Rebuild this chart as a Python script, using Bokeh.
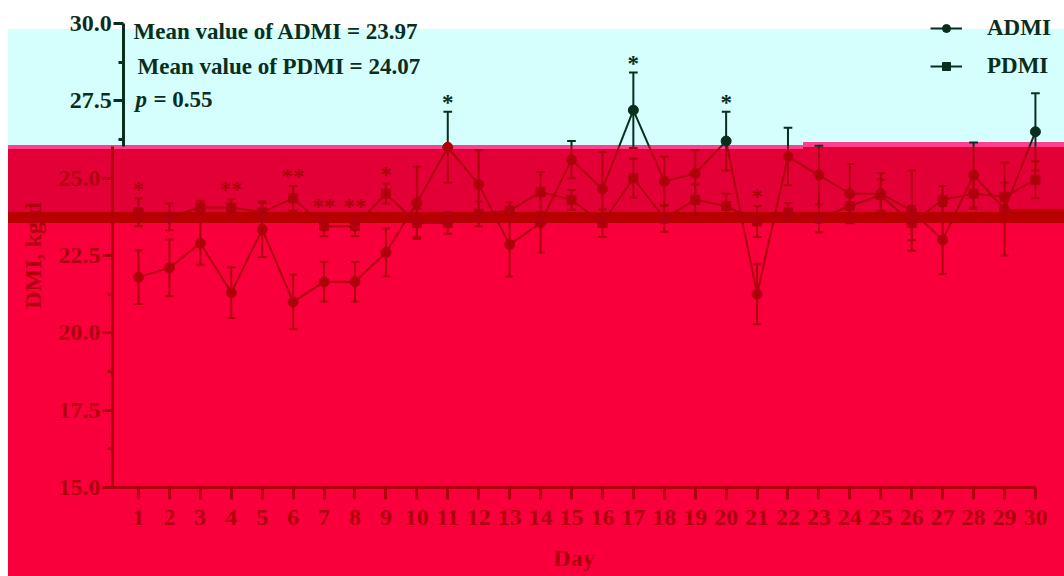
from bokeh.plotting import figure
from bokeh.models import (Range1d, FixedTicker, Legend, LegendItem, ColumnDataSource,
                          NumeralTickFormatter, LinearAxis)
from bokeh.core.properties import value
from bokeh.embed import file_html
from bokeh.resources import INLINE

# ---------------- data ----------------
days = list(range(1, 31))
admi = [21.8, 22.1, 22.9, 21.3, 23.35, 21.0, 21.65, 21.65, 22.6, 24.2,
        26.0, 24.8, 22.85, 23.55, 25.6, 24.65, 27.2, 24.9, 25.15, 26.2,
        21.25, 25.7, 25.1, 24.5, 24.5, 23.95, 23.0, 25.1, 24.0, 26.5]
admi_err = [0.87, 0.92, 0.7, 0.82, 0.9, 0.88, 0.64, 0.64, 0.77, 1.17,
            1.15, 1.1, 1.03, 0.95, 0.6, 1.2, 1.22, 0.8, 0.75, 0.95,
            0.97, 0.93, 0.95, 0.96, 0.66, 1.3, 1.1, 1.05, 1.5, 1.25]
pdmi = [23.9, 23.75, 24.05, 24.05, 23.9, 24.35, 23.45, 23.45, 24.5, 23.55,
        23.55, 23.85, 23.95, 24.55, 24.3, 23.55, 25.0, 23.7, 24.3, 24.1,
        23.6, 23.9, 23.7, 24.1, 24.45, 23.55, 24.3, 24.5, 24.4, 24.95]
pdmi_err = [0.45, 0.43, 0.22, 0.27, 0.3, 0.4, 0.33, 0.33, 0.33, 0.46,
            0.35, 0.4, 0.27, 0.65, 0.32, 0.44, 0.63, 0.43, 0.5, 0.4,
            0.5, 0.3, 0.45, 0.35, 0.5, 0.55, 0.45, 0.5, 0.45, 0.6]
stars = ["*", "", "", "**", "", "**", "**", "**", "*", "",
         "*", "", "", "", "", "", "*", "", "", "*",
         "*", "", "", "", "", "", "", "", "", ""]
y_major = [15.0, 17.5, 20.0, 22.5, 25.0, 27.5, 30.0]
y_minor = [16.25, 18.75, 21.25, 23.75, 26.25, 28.75]
mean_labels = ["Mean value of ADMI = 23.97", "Mean value of PDMI = 24.07"]
p_label = ["p", "= 0.55"]
series_names = ["ADMI", "PDMI"]
x_title = "Day"
y_title = "DMI, kg/d"

# ---------------- style ----------------
DARK = "#0A2E1E"      # ink over the light (upper) band
INK = "#B0000C"       # ink over the red (lower) band
THRESH = 26.02        # value where the band changes
FONT = "Liberation Serif"
X0 = 0.16             # where the y axis sits
Y0 = 15.0             # where the x axis sits

W, H = 1064, 576
p = figure(width=W, height=H, output_backend="svg", toolbar_location=None,
           x_range=Range1d(-3.461, 30.94), y_range=Range1d(12.122, 30.745),
           min_border_left=0, min_border_right=0, min_border_top=0,
           min_border_bottom=0)
p.border_fill_color = None
p.background_fill_color = None
p.outline_line_color = None
p.grid.visible = False

bg = ("linear-gradient(#FFFFFF, #FFFFFF) 0px 0px / 8px 100% no-repeat, "
      "linear-gradient(to bottom, transparent 0px, transparent 209px, #B80000 209px, #B80000 222px, transparent 222px) 1003px 0px / 61px 100% no-repeat, "
      "linear-gradient(to bottom, transparent 0px, transparent 142px, #FF3E8E 142px, #FF3E8E 147px, #E30037 147px, #E30037 149px, transparent 149px) 803px 0px / 261px 100% no-repeat, "
      "linear-gradient(to bottom, #FFFFFF 0px, #FFFFFF 29px, #D4FFFD 29px, #D4FFFD 145px, #FF3E8E 145px, #FF3E8E 149px, "
      "#E30037 149px, #E30037 212px, #B80000 212px, #B80000 223px, #F9003C 223px, #F9003C 100%)")
p.styles = {"background": bg}


def col(y):
    return DARK if y > THRESH else INK


def split(x0, y0, x1, y1):
    a0, a1 = y0 > THRESH, y1 > THRESH
    if a0 == a1:
        return [(x0, y0, x1, y1, col(y0))]
    t = (THRESH - y0) / (y1 - y0)
    xm = x0 + t * (x1 - x0)
    return [(x0, y0, xm, THRESH, col(y0)), (xm, THRESH, x1, y1, col(y1))]


def draw_series(vals, errs, marker):
    segs = []
    for i in range(len(days) - 1):
        segs += split(days[i], vals[i], days[i + 1], vals[i + 1])
    for d, v, e in zip(days, vals, errs):
        segs += split(d, v - e, d, v + e)
        for yy in (v - e, v + e):
            segs.append((d - 0.14, yy, d + 0.14, yy, col(yy)))
    src = ColumnDataSource(dict(x0=[s[0] for s in segs], y0=[s[1] for s in segs],
                                x1=[s[2] for s in segs], y1=[s[3] for s in segs],
                                c=[s[4] for s in segs]))
    p.segment("x0", "y0", "x1", "y1", source=src, line_color="c", line_width=2)
    msrc = ColumnDataSource(dict(x=days, y=vals, c=[col(v) for v in vals]))
    p.scatter("x", "y", source=msrc, marker=marker, size=10 if marker == "circle" else 9,
              fill_color="c", line_color="c")


draw_series(pdmi, pdmi_err, "square")
draw_series(admi, admi_err, "circle")

# significance marks (placed just above the higher error bar)
sx, sy, st, sc = [], [], [], []
for d, a, ae, pv, pe, s in zip(days, admi, admi_err, pdmi, pdmi_err, stars):
    if s:
        top = max(a + ae, pv + pe) + 0.3
        sx.append(d); sy.append(top); st.append(s); sc.append(col(top))
p.text(x="x", y="y", text="t", source=ColumnDataSource(dict(x=sx, y=sy, t=st, c=sc)),
       text_color="c", text_align="center", text_baseline="alphabetic",
       text_font=value(FONT), text_font_style="bold", text_font_size="23px")

# annotation texts
p.text(x=[0.84, 0.97], y=[29.75, 28.61], text=mean_labels, text_color=DARK,
       text_align="left", text_baseline="alphabetic",
       text_font=value(FONT), text_font_style="bold", text_font_size="23px")
p.text(x=[0.9], y=[27.55], text=[p_label[0]], text_color=DARK, text_align="left",
       text_baseline="alphabetic", text_font=value(FONT), text_font_style="bold italic",
       text_font_size="23px")
p.text(x=[0.9], y=[27.55], text=[p_label[1]], x_offset=18, text_color=DARK,
       text_align="left", text_baseline="alphabetic", text_font=value(FONT),
       text_font_style="bold", text_font_size="23px")

# legend: renderers on an off-screen range so only their legend glyphs show
p.extra_y_ranges = {"legend_only": Range1d(-100, -99)}
l1 = p.line(x=days, y=admi, line_color=DARK, line_width=2, y_range_name="legend_only")
m1 = p.scatter(x=days, y=admi, marker="circle", size=10, fill_color=DARK, line_color=DARK,
               y_range_name="legend_only")
l2 = p.line(x=days, y=pdmi, line_color=DARK, line_width=2, y_range_name="legend_only")
m2 = p.scatter(x=days, y=pdmi, marker="square", size=9, fill_color=DARK, line_color=DARK,
               y_range_name="legend_only")
legend = Legend(items=[LegendItem(label=series_names[0], renderers=[l1, m1]),
                       LegendItem(label=series_names[1], renderers=[l2, m2])],
                location=(930, 497), background_fill_color=None, border_line_color=None,
                label_text_font=FONT, label_text_font_style="bold",
                label_text_font_size="23px", label_text_color=DARK,
                glyph_width=32, glyph_height=20, label_standoff=25, spacing=12,
                padding=0, margin=0)
p.add_layout(legend)

# x axis
xa = p.xaxis[0]
xa.ticker = FixedTicker(ticks=days)
xa.bounds = (X0, 30)
xa.fixed_location = Y0
xa.axis_line_color = INK
xa.axis_line_width = 3
xa.major_tick_line_color = INK
xa.major_tick_line_width = 3
xa.major_tick_out = 12
xa.major_tick_in = 0
xa.minor_tick_line_color = None
xa.major_label_text_color = INK
xa.major_label_text_font = FONT
xa.major_label_text_font_style = "bold"
xa.major_label_text_font_size = "24px"
xa.major_label_standoff = 11
xa.axis_label = x_title
xa.axis_label_text_color = INK
xa.axis_label_text_font = FONT
xa.axis_label_text_font_style = "bold"
xa.axis_label_text_font_size = "24px"
xa.axis_label_standoff = 16


def style_y(ax, c):
    ax.axis_line_color = c
    ax.axis_line_width = 3
    ax.major_tick_line_color = c
    ax.major_tick_line_width = 3
    ax.minor_tick_line_color = c
    ax.minor_tick_line_width = 3
    ax.major_tick_out = 10
    ax.major_tick_in = 0
    ax.minor_tick_out = 5
    ax.minor_tick_in = 0
    ax.major_label_text_color = c
    ax.major_label_text_font = FONT
    ax.major_label_text_font_style = "bold"
    ax.major_label_text_font_size = "24px"
    ax.major_label_standoff = 2


# lower y axis (red band)
ya = p.yaxis[0]
ya.ticker = FixedTicker(ticks=[t for t in y_major if t < THRESH],
                        minor_ticks=[t for t in y_minor if t < THRESH])
ya.bounds = (Y0, THRESH)
ya.fixed_location = X0
ya.formatter = NumeralTickFormatter(format="0.0")
style_y(ya, INK)

# upper y axis (light band), drawn slightly shifted like the reference
yb = LinearAxis(ticker=FixedTicker(ticks=[t for t in y_major if t > THRESH],
                                   minor_ticks=[t for t in y_minor if t > THRESH]),
                bounds=(THRESH, 30), fixed_location=0.52,
                formatter=NumeralTickFormatter(format="0.0"))
style_y(yb, DARK)
p.add_layout(yb, "left")

# axis title spanning the whole value axis
yc = LinearAxis(ticker=FixedTicker(ticks=[]), bounds=(Y0, 30), fixed_location=X0,
                axis_line_color=None, major_tick_line_color=None,
                minor_tick_line_color=None, major_tick_out=0, minor_tick_out=0,
                major_label_text_alpha=0)
yc.axis_label = y_title
yc.axis_label_text_color = INK
yc.axis_label_text_font = FONT
yc.axis_label_text_font_style = "bold"
yc.axis_label_text_font_size = "24px"
yc.axis_label_standoff = 67
p.add_layout(yc, "left")

open("out.html", "w").write(file_html(p, INLINE))
